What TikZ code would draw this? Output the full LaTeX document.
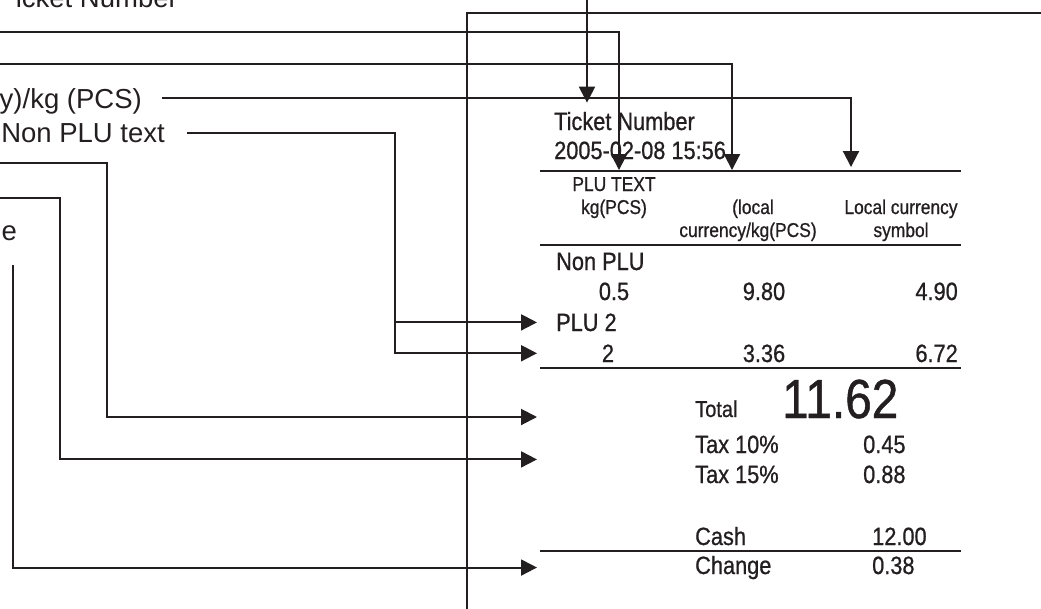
\documentclass[tikz,border=0pt]{standalone}
\usepackage{fontspec}
\setmainfont{Liberation Sans}
\newfontfamily\rcptfont[FakeStretch=0.87, FakeBold=0.8]{Liberation Sans}
\usepackage{tikz}
\usetikzlibrary{arrows.meta}
\usetikzlibrary{calc}
\usepackage{xcolor}
\definecolor{ink}{RGB}{35, 31, 32}

\begin{document}
\begin{tikzpicture}[
  x=1pt, y=-1pt,
  lbl/.style={inner sep=0pt, text=ink, font=\fontsize{27.5}{32}\selectfont},
  rcpt/.style={inner sep=0pt, text=ink, font=\rcptfont\fontsize{25}{30}\selectfont},
  head/.style={inner sep=0pt, text=ink, font=\rcptfont\fontsize{20}{24}\selectfont},
  big/.style={inner sep=0pt, text=ink, font=\rcptfont\fontsize{55}{60}\selectfont},
  conn/.style={draw=ink, line width=2pt, -{Triangle[length=16pt, width=16pt]}},
  rule/.style={draw=ink, line width=2pt},
  frame/.style={draw=ink, line width=1.5pt}
]
  \useasboundingbox (0,0) rectangle (1041,608);
  \clip (0,0) rectangle (1041,608);

  \node[lbl, anchor=base east] (tnumLbl) at (178,7)   {icket Number};
  \node[lbl, anchor=base east] (unitLbl) at (142,108) {y)/kg (PCS)};
  \node[lbl, anchor=base east] (nonLbl)  at (165,142) {Non PLU text};
  \node[lbl, anchor=base east] (chgLbl)  at (17,240)  {e};

  \draw[frame] (467,610) |- (1045,13);

  \node[rcpt, anchor=base west] (tnum) at (554,130) {Ticket Number};
  \node[rcpt, anchor=base west] (date) at (554,159) {2005-02-08 15:56};
  \draw[rule] (540,171) -- (961,171);
  \node[head, anchor=base] (hplu) at (614,191) {PLU TEXT};
  \node[head, anchor=base] (hkg)  at (614,214) {kg(PCS)};
  \node[head, anchor=base] (hloc) at (753,214) {(local};
  \node[head, anchor=base] (hcur) at (748,237) {currency/kg(PCS)};
  \node[head, anchor=base] (hsym) at (901,214) {Local currency};
  \node[head, anchor=base] (hsmb) at (901,237) {symbol};
  \draw[rule] (540,245) -- (961,245);

  \node[rcpt, anchor=base west] (nonplu) at (556,270) {Non PLU};
  \node[rcpt, anchor=base]      (q1) at (614,300) {0.5};
  \node[rcpt, anchor=base]      (p1) at (764,300) {9.80};
  \node[rcpt, anchor=base east] (a1) at (958,300) {4.90};
  \node[rcpt, anchor=base west] (plutwo) at (556,331) {PLU 2};
  \node[rcpt, anchor=base]      (q2) at (608,362) {2};
  \node[rcpt, anchor=base]      (p2) at (764,362) {3.36};
  \node[rcpt, anchor=base east] (a2) at (958,362) {6.72};
  \draw[rule] (540,368) -- (961,368);

  \node[rcpt, anchor=base west, font=\rcptfont\fontsize{23}{28}\selectfont] (total) at (695,417) {Total};
  \node[big,  anchor=base west] (sum)    at (782,418) {11.62};
  \node[rcpt, anchor=base west] (tax1)   at (695,453) {Tax 10\%};
  \node[rcpt, anchor=base west] (v1)     at (863,453) {0.45};
  \node[rcpt, anchor=base west] (tax2)   at (695,483) {Tax 15\%};
  \node[rcpt, anchor=base west] (v2)     at (863,483) {0.88};
  \node[rcpt, anchor=base west] (cash)   at (695,545) {Cash};
  \node[rcpt, anchor=base west] (v3)     at (872,545) {12.00};
  \draw[rule] (540,551) -- (961,551);
  \node[rcpt, anchor=base west] (change) at (695,574) {Change};
  \node[rcpt, anchor=base west] (v4)     at (872,574) {0.38};

  \coordinate (inT) at (587,-5);
  \coordinate (inA) at (-5,32);
  \coordinate (inB) at (-5,64);
  \coordinate (inE) at (-5,163);
  \coordinate (inF) at (-5,198);
  \coordinate (inG) at (13,265);
  \coordinate (colA) at (619,0);
  \coordinate (colB) at (732,0);
  \coordinate (colC) at (851,0);
  \coordinate (colD) at (395,0);
  \coordinate (colE) at (107,0);
  \coordinate (colF) at (60,0);
  \coordinate (tips) at (537,0);
  \coordinate (taxmid) at ($(tax1.west)!0.5!(tax2.west)$);

  \draw[conn, shorten >=9pt] (inT) -- (inT |- tnum.north);
  \draw[conn, shorten >=7pt] (inA) -| (colA |- hplu.north);
  \draw[conn, shorten >=7pt] (inB) -| (colB |- hplu.north);
  \draw[conn, shorten >=10pt] ([xshift=20pt, yshift=10pt]unitLbl.base east) -| (colC |- hplu.north);
  \draw[conn] ([xshift=22pt]nonLbl.east) -| (colD |- q2.west) -- (tips |- q2.west);
  \draw[conn] (colD |- plutwo.west) -- (tips |- plutwo.west);
  \draw[conn] (inE) -| (colE |- total.base) -- (tips |- total.base);
  \draw[conn] (inF) -| (colF |- taxmid) -- (tips |- taxmid);
  \draw[conn] (inG) |- (tips |- change.west);
\end{tikzpicture}
\end{document}
